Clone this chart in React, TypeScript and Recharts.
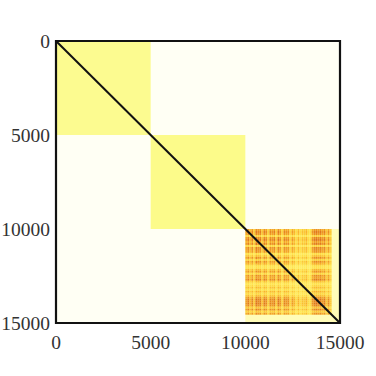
import React from "react";
import { ComposedChart, XAxis, YAxis, ReferenceArea, Line } from "recharts";

const ticks = [0, 5000, 10000, 15000];
const diagonal = [
  { x: 0, y: 0 },
  { x: 15000, y: 15000 },
];
const blocks = [
  { x1: 0, x2: 5000, y1: 0, y2: 5000, fill: "#fcfb90" },
  { x1: 5000, x2: 10000, y1: 5000, y2: 10000, fill: "#fcfb8a" },
  { x1: 10000, x2: 15000, y1: 10000, y2: 15000, fill: "#fffcb8" },
];
const colProfile = [
  0.75, 0.95, 0.6, 0.9, 0.45, 1.0, 0.9, 0.95, 0.5, 0.95, 0.85, 0.4, 0.9, 0.8, 0.95, 0.45, 1.0, 0.8, 0.35, 0.9, 0.8,
  0.85, 0.35, 0.75, 0.6, 0.3, 0.6, 0.3, 0.5, 0.45, 0.6, 0.3, 0.3, 0.8, 0.95, 1.0, 0.9, 1.0, 0.8, 0.95, 0.5, 0.85, 0.45,
];
const rowProfile = [
  0.8, 0.95, 0.85, 0.4, 0.9, 1.0, 0.75, 0.95, 0.35, 0.9, 0.85, 0.8, 0.3, 0.5, 0.85, 0.4, 0.85, 0.65, 0.3, 0.25, 0.6,
  0.8, 0.35, 0.85, 0.75, 0.95, 0.5, 0.25, 0.35, 0.55, 0.3, 0.6, 0.35, 0.55, 0.85, 1.0, 0.95, 1.0, 0.9, 0.5, 0.9, 0.45, 0.8,
];
const heatStart = 10000;
const heatStep = 106;

const stops: [number, number, number][] = [
  [255, 246, 120],
  [255, 224, 70],
  [248, 176, 40],
  [222, 112, 26],
];
function heatColor(t: number) {
  const p = Math.min(0.999, Math.max(0, Math.pow(t, 0.8))) * (stops.length - 1);
  const i = Math.floor(p);
  const f = p - i;
  const c = stops[i].map((v, k) => Math.round(v + (stops[i + 1][k] - v) * f));
  return `rgb(${c[0]},${c[1]},${c[2]})`;
}

const tickStyle = { fontFamily: "Liberation Serif", fontSize: 19.5, fill: "#333" };

export default function App() {
  return (
    <div style={{ position: "absolute", left: 0, top: 0, width: 376, height: 376, background: "#fff" }}>
      <ComposedChart width={376} height={376} margin={{ top: 41, right: 36, bottom: 0, left: 0 }} data={diagonal}>
        <XAxis type="number" dataKey="x" domain={[0, 15000]} ticks={ticks} axisLine={false} tickLine={false} height={53} tick={tickStyle} tickMargin={6} interval={0} />
        <YAxis type="number" domain={[0, 15000]} reversed ticks={ticks} axisLine={false} tickLine={false} width={56} tick={tickStyle} tickMargin={0} interval={0} />
        <ReferenceArea x1={0} x2={15000} y1={0} y2={15000} fill="#fffff4" fillOpacity={1} stroke="none" />
        {blocks.map((b, i) => (
          <ReferenceArea key={i} {...b} fillOpacity={1} stroke="none" />
        ))}
        {rowProfile.flatMap((r, i) =>
          colProfile.map((c, j) => (
            <ReferenceArea
              key={`${i}-${j}`}
              x1={heatStart + j * heatStep}
              x2={heatStart + (j + 1) * heatStep}
              y1={heatStart + i * heatStep}
              y2={heatStart + (i + 1) * heatStep}
              fill={heatColor(r * c)}
              fillOpacity={1}
              stroke="none"
            />
          ))
        )}
        <ReferenceArea x1={0} x2={15000} y1={0} y2={15000} fill="none" stroke="#111" strokeWidth={2.2} />
        <Line dataKey="y" stroke="#111" strokeWidth={2} dot={false} isAnimationActive={false} />
      </ComposedChart>
    </div>
  );
}
